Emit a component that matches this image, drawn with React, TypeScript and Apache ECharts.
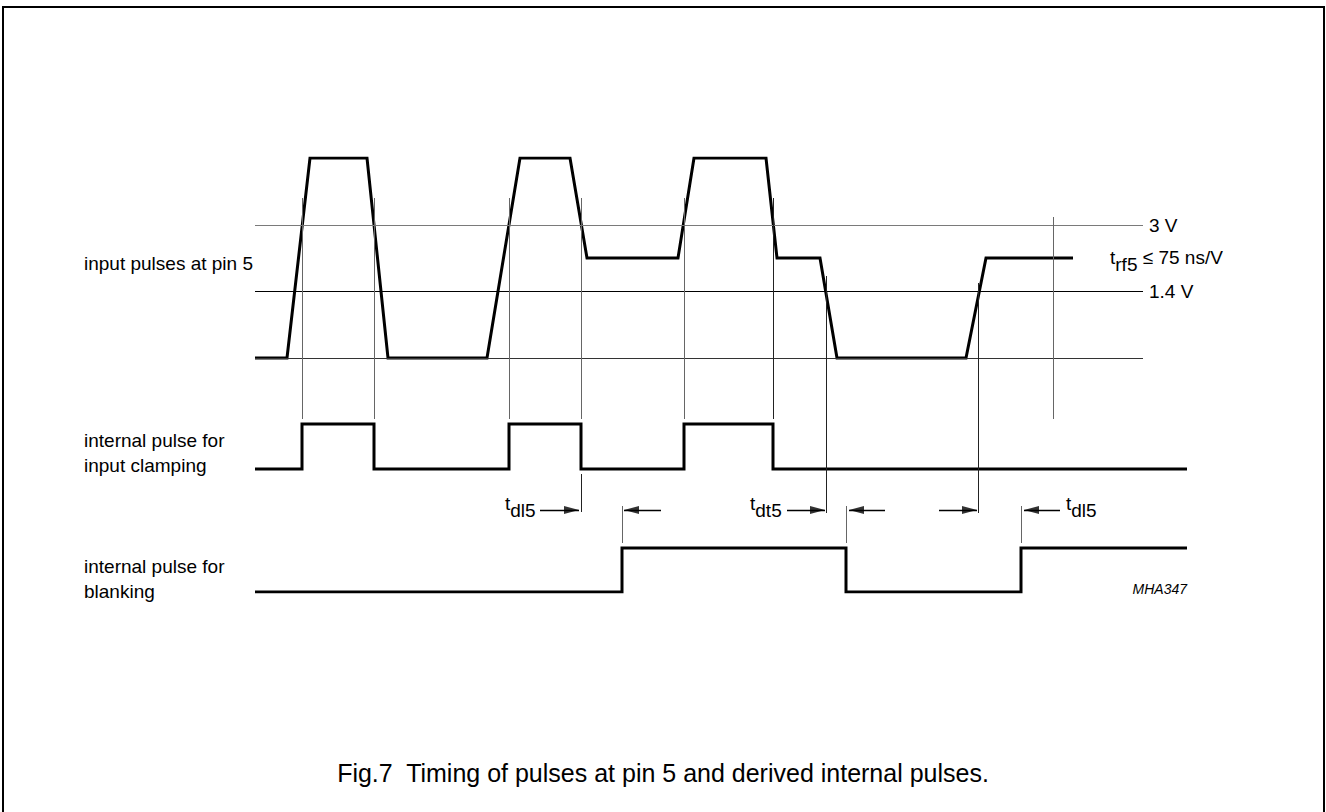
import { useEffect, useRef } from 'react';
import * as echarts from 'echarts';

const FONT = '"Liberation Sans", Arial, Helvetica, sans-serif';
const FS = 19;

// Axes: arbitrary time units (x) and arbitrary level units (y)
const TIME_SPAN = 932;
const LEVEL_SPAN = 434;

// input pulses at pin 5 (corner points)
const inputTime = [0, 32, 55, 112, 133, 232, 265, 315, 332, 423, 439, 511, 522, 565, 582, 711, 731, 818];
const inputLevel = [234, 234, 434, 434, 234, 234, 434, 434, 334, 334, 434, 434, 334, 334, 234, 234, 334, 334];

// internal pulse for input clamping
const clampTime = [0, 47, 47, 119, 119, 254, 254, 326, 326, 429, 429, 518, 518, 932];
const clampLevel = [123, 123, 168, 168, 123, 123, 168, 168, 123, 123, 168, 168, 123, 123];

// internal pulse for blanking
const blankTime = [0, 367, 367, 591, 591, 766, 766, 932];
const blankLevel = [0, 0, 44, 44, 0, 0, 44, 44];

// reference levels
const thresholdName = ['3 V', '1.4 V'];
const thresholdLevel = [367, 301];
const thresholdEnd = 888;
const inputLowLevel = 234;

// vertical timing markers
const markerTime = [47, 119, 254, 326, 429, 518, 571, 723, 798];
const markerTop = [394, 394, 394, 394, 394, 394, 316, 309, 375];
const markerBottom = [173, 173, 173, 173, 173, 173, 79, 79, 173];
const markerDark = [false, false, false, false, false, true, true, true, false];
const extraMarker = { time: 326, top: 118, bottom: 80 };

// short ticks on blanking edges
const tickTime = [367, 591, 766];
const tickTop = 86;
const tickBottom = 49;

// delay arrows: tail -> tip
const arrowLevel = 82;
const arrowTail = [285, 406, 532, 630, 684, 805];
const arrowTip = [324, 369, 570, 594, 722, 769];

// texts
const sideLabels = ['input pulses at pin 5', 'internal pulse for\ninput clamping', 'internal pulse for\nblanking'];
const title = 'Fig.7  Timing of pulses at pin 5 and derived internal pulses.';
const code = 'MHA347';
const rfMain = 't';
const rfSub = 'rf5';
const rfRest = ' ≤ 75 ns/V';
const delayLabels = [
  { main: 't', sub: 'dl5' },
  { main: 't', sub: 'dt5' },
  { main: 't', sub: 'dl5' },
];

const GRID_LEFT = 255;
const GRID_TOP = 158;

const pair = (t: number[], v: number[]) => t.map((x, i) => [x, v[i]]);

const thin = (x1: number, y1: number, x2: number, y2: number, color: string, width = 1) => [
  { coord: [x1, y1], lineStyle: { color, width, type: 'solid' } },
  { coord: [x2, y2] },
];

const plain = (x: number, y: number, text: string, size: number, align = 'left', italic = false, lh = 25) => ({
  type: 'text',
  x,
  y,
  silent: true,
  style: {
    text,
    fill: '#000',
    fontSize: size,
    fontFamily: FONT,
    fontStyle: italic ? 'italic' : 'normal',
    lineHeight: lh,
    align,
    textAlign: align,
    verticalAlign: 'middle',
    textVerticalAlign: 'middle',
  },
});

// "t" + subscript, returns elements; widths from Arial metrics
const T_W = 0.278 * FS;
const SUB_DROP = 7;
const withSub = (x: number, y: number, main: string, sub: string, subWidthEm = 0) => {
  const els: any[] = [plain(x, y, main, FS), plain(x + T_W, y + SUB_DROP, sub, FS)];
  return { els, end: x + T_W + subWidthEm * FS };
};

const buildOption = () => {
  const lines: any[] = [];
  thresholdLevel.forEach((lv, i) => {
    lines.push([
      {
        coord: [0, lv],
        lineStyle: { color: i === 0 ? '#7a7a7a' : '#000', width: 1, type: 'solid' },
        label: { show: true, formatter: thresholdName[i], position: 'end', distance: 6, color: '#000', fontSize: FS, fontFamily: FONT },
      },
      { coord: [thresholdEnd, lv] },
    ]);
  });
  lines.push(thin(0, inputLowLevel, thresholdEnd, inputLowLevel, '#333'));
  markerTime.forEach((t, i) => {
    lines.push(thin(t, markerTop[i], t, markerBottom[i], markerDark[i] ? '#222' : '#666'));
  });
  lines.push(thin(extraMarker.time, extraMarker.top, extraMarker.time, extraMarker.bottom, '#222'));
  tickTime.forEach((t) => lines.push(thin(t, tickTop, t, tickBottom, '#666')));
  arrowTail.forEach((t, i) => lines.push(thin(t, arrowLevel, arrowTip[i], arrowLevel, '#000', 1.4)));

  const rightHeads: any[] = [];
  const leftHeads: any[] = [];
  arrowTail.forEach((t, i) => {
    if (arrowTip[i] > t) rightHeads.push([arrowTip[i], arrowLevel]);
    else leftHeads.push([arrowTip[i], arrowLevel]);
  });

  const wave = { color: '#000', width: 3, join: 'miter' as const };

  const rf = withSub(1110, 257, rfMain, rfSub, 1.167);
  const d1 = withSub(505, 503, delayLabels[0].main, delayLabels[0].sub);
  const d2 = withSub(750, 503, delayLabels[1].main, delayLabels[1].sub);
  const d3 = withSub(1066, 503, delayLabels[2].main, delayLabels[2].sub);

  return {
    animation: false,
    backgroundColor: '#fff',
    grid: { left: GRID_LEFT, top: GRID_TOP, width: TIME_SPAN, height: LEVEL_SPAN, containLabel: false },
    xAxis: { type: 'value', min: 0, max: TIME_SPAN, show: false },
    yAxis: { type: 'value', min: 0, max: LEVEL_SPAN, show: false },
    series: [
      {
        type: 'line',
        name: 'guides',
        data: [],
        silent: true,
        z: 1,
        markLine: {
          silent: true,
          symbol: ['none', 'none'],
          label: { show: false },
          emphasis: { disabled: true },
          data: lines,
        },
      },
      {
        type: 'line',
        name: 'input pulses at pin 5',
        data: pair(inputTime, inputLevel),
        symbol: 'none',
        lineStyle: wave,
        silent: true,
        z: 3,
      },
      {
        type: 'line',
        name: 'internal pulse for input clamping',
        data: pair(clampTime, clampLevel),
        symbol: 'none',
        lineStyle: wave,
        silent: true,
        z: 3,
      },
      {
        type: 'line',
        name: 'internal pulse for blanking',
        data: pair(blankTime, blankLevel),
        symbol: 'none',
        lineStyle: wave,
        silent: true,
        z: 3,
      },
      {
        type: 'scatter',
        data: rightHeads,
        symbol: 'path://M0,0L15,4L0,8Z',
        symbolSize: [15, 8],
        symbolOffset: [-7.5, 0],
        itemStyle: { color: '#000' },
        silent: true,
        z: 4,
      },
      {
        type: 'scatter',
        data: leftHeads,
        symbol: 'path://M15,0L0,4L15,8Z',
        symbolSize: [15, 8],
        symbolOffset: [7.5, 0],
        itemStyle: { color: '#000' },
        silent: true,
        z: 4,
      },
    ],
    graphic: [
      { type: 'rect', shape: { x: 3, y: 7, width: 1321, height: 840 }, style: { fill: 'none', stroke: '#000', lineWidth: 2 }, silent: true },
      plain(84, 263, sideLabels[0], FS),
      plain(84, 453, sideLabels[1], FS),
      plain(84, 579, sideLabels[2], FS),
      plain(663, 773, title, 25, 'center'),
      plain(1187, 589, code, 14, 'right', true),
      ...rf.els,
      plain(rf.end, 257, rfRest, FS),
      ...d1.els,
      ...d2.els,
      ...d3.els,
    ],
  };
};

export default function App() {
  const ref = useRef<HTMLDivElement>(null);
  useEffect(() => {
    if (!ref.current) return;
    const chart = echarts.init(ref.current, undefined, { renderer: 'svg' });
    chart.setOption(buildOption() as any);
    return () => chart.dispose();
  }, []);
  return (
    <div
      ref={ref}
      style={{ position: 'fixed', left: 0, top: 0, width: 1326, height: 812, background: '#fff' }}
    />
  );
}
